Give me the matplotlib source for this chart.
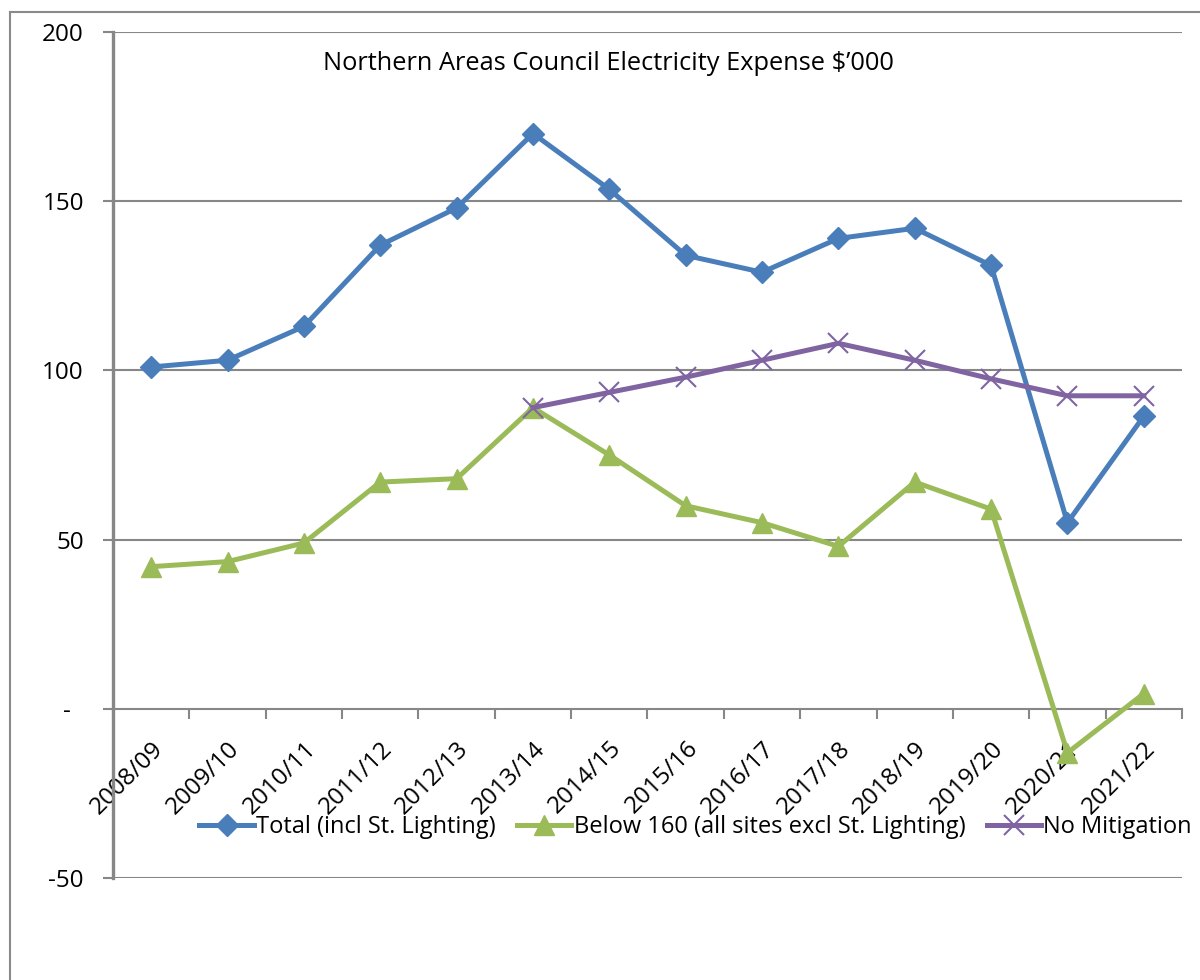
import matplotlib
matplotlib.use("Agg")
import matplotlib.pyplot as plt
import numpy as np
from matplotlib.lines import Line2D

years = ["2008/09", "2009/10", "2010/11", "2011/12", "2012/13", "2013/14", "2014/15",
         "2015/16", "2016/17", "2017/18", "2018/19", "2019/20", "2020/21", "2021/22"]
total = [101, 103, 113, 137, 148, 170, 153.5, 134, 129, 139, 142, 131, 55, 86.5]
below160 = [42, 43.5, 49, 67, 68, 89, 75, 60, 55, 48, 67, 59, -13, 4.5]
no_mitigation = [np.nan, np.nan, np.nan, np.nan, np.nan, 89, 93.5, 98, 103, 108, 103, 97.5, 92.5, 92.5]
yticks = [-50, 0, 50, 100, 150, 200]
ylabels = ["-50", "-  ", "50", "100", "150", "200"]

plt.rcParams['font.family'] = ['Open Sans', 'DejaVu Sans']

fig = plt.figure(figsize=(12, 9.8), dpi=100)
ax = fig.add_axes([113/1200, 1-878/980, (1182-113)/1200, (878-32)/980])

grid_c = "#878787"
x = np.arange(len(years))
for yv in yticks:
    if yv != 0:
        ax.axhline(yv, color=grid_c, lw=1.5, zorder=1)

l1, = ax.plot(x, total, color="#4A7EBB", lw=3.6, marker="D", ms=11, zorder=3,
              label="Total (incl St. Lighting)")
l2, = ax.plot(x, below160, color="#9BBB59", lw=3.6, marker="^", ms=15, zorder=3,
              label="Below 160 (all sites excl St. Lighting)")
l3, = ax.plot(x, no_mitigation, color="#8064A2", lw=3.6, marker="x", ms=14, mew=1.5, zorder=3,
              label="No Mitigation")

ax.set_xlim(-0.5, len(years) - 0.5)
ax.set_ylim(-50, 200)
for s in ["top", "right"]:
    ax.spines[s].set_visible(False)
ax.spines["left"].set_color(grid_c)
ax.spines["left"].set_linewidth(2.4)
ax.spines["bottom"].set_position(("data", 0))
ax.spines["bottom"].set_color(grid_c)
ax.spines["bottom"].set_linewidth(1.5)

ax.set_yticks(yticks)
ax.set_yticklabels(ylabels, fontsize=17.5)
ax.tick_params(axis="y", length=7, width=1.5, color=grid_c, pad=14)

ax.set_xticks(x)
ax.set_xticklabels(years, fontsize=17.5, rotation=45, ha="right", va="top", rotation_mode="anchor")
ax.tick_params(axis="x", which="major", length=0, pad=20)
ax.set_xticks(np.arange(len(years) + 1) - 0.5, minor=True)
ax.tick_params(axis="x", which="minor", length=7, width=1.5, color=grid_c, direction="out")

ax.text(0.463, 0.963, "Northern Areas Council Electricity Expense $\u2019000", transform=ax.transAxes,
        ha="center", va="center", fontsize=18.3)

ax.legend(handles=[l1, l2, l3], loc="center", bbox_to_anchor=(0.545, 0.06), ncol=3,
          frameon=False, fontsize=17, handlelength=2.3, handletextpad=0.1, columnspacing=0.9,
          borderaxespad=0)

fig.add_artist(Line2D([10/1200, 10/1200], [0, 1-12/980], color="#8a8a8a", lw=1.5))
fig.add_artist(Line2D([10/1200, 1.0], [1-12/980, 1-12/980], color="#8a8a8a", lw=1.5))

fig.savefig("out.png", dpi=100)
